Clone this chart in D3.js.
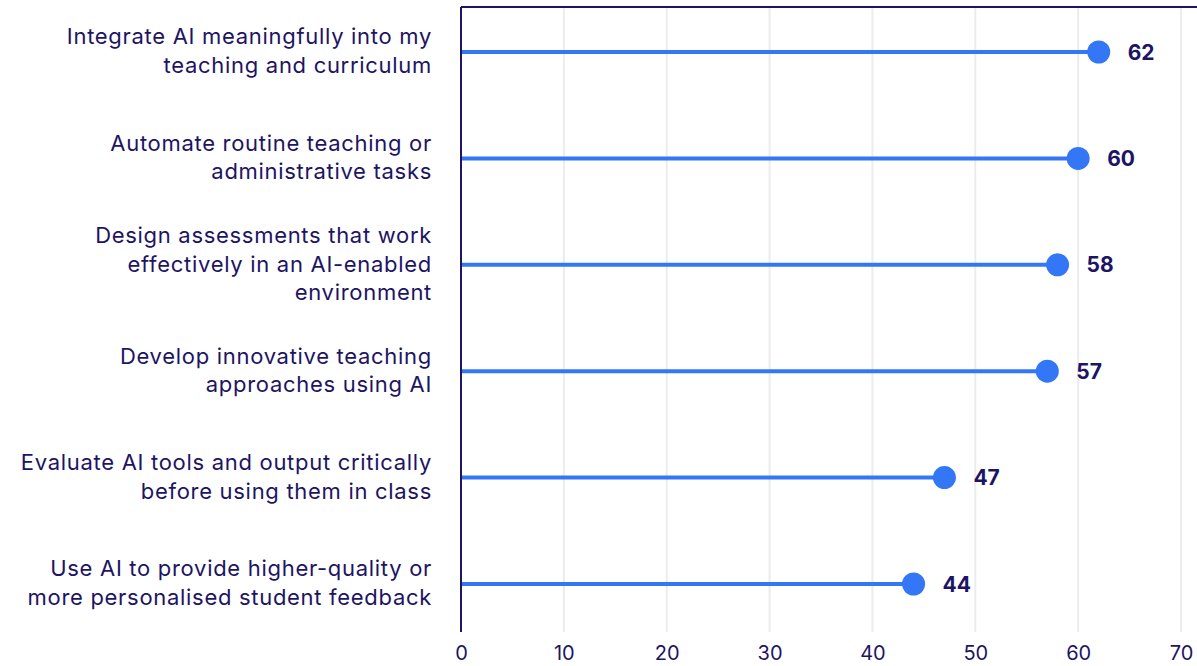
<!DOCTYPE html>
<html>
<head>
<meta charset="utf-8">
<script src="https://cdn.jsdelivr.net/npm/d3@7"></script>
<style>
  html, body { margin: 0; padding: 0; background: #ffffff; }
  svg { display: block; }
</style>
</head>
<body>
<svg id="chart" width="1197" height="666"></svg>
<script>
// Share of respondents (%) per skill area
const categories = [
  ["Integrate AI meaningfully into my", "teaching and curriculum"],
  ["Automate routine teaching or", "administrative tasks"],
  ["Design assessments that work", "effectively in an AI-enabled", "environment"],
  ["Develop innovative teaching", "approaches using AI"],
  ["Evaluate AI tools and output critically", "before using them in class"],
  ["Use AI to provide higher-quality or", "more personalised student feedback"]
];
const values = [62, 60, 58, 57, 47, 44];
const xTicks = [0, 10, 20, 30, 40, 50, 60, 70];

const navy = "#1d1463";
const blue = "#3377f7";
const font = "Inter, 'Noto Sans', sans-serif";

const svg = d3.select("#chart");
const plotLeft = 461, plotRight = 1181, plotTop = 7, plotBottom = 632;

const x = d3.scaleLinear().domain([0, 70]).range([plotLeft, plotRight]);
const y = d3.scalePoint().domain(d3.range(categories.length)).range([52, 584]);

// vertical gridlines
svg.append("g")
  .selectAll("line")
  .data(xTicks.slice(1))
  .join("line")
  .attr("x1", d => x(d)).attr("x2", d => x(d))
  .attr("y1", plotTop).attr("y2", plotBottom)
  .attr("stroke", "#ececec")
  .attr("stroke-width", 2);

// top border line
svg.append("line")
  .attr("x1", plotLeft).attr("x2", 1197)
  .attr("y1", plotTop).attr("y2", plotTop)
  .attr("stroke", navy).attr("stroke-width", 2);

// x axis tick labels
const xAxis = d3.axisBottom(x).tickValues(xTicks).tickSize(0).tickPadding(14);
const gx = svg.append("g").attr("transform", `translate(0,${plotBottom})`).call(xAxis);
gx.select(".domain").remove();
gx.selectAll("text")
  .attr("fill", navy)
  .style("font-family", font)
  .style("font-size", "20px");

// vertical axis line
svg.append("line")
  .attr("x1", plotLeft).attr("x2", plotLeft)
  .attr("y1", plotTop).attr("y2", plotBottom)
  .attr("stroke", navy).attr("stroke-width", 2);

const rows = svg.append("g")
  .selectAll("g")
  .data(values.map((v, i) => ({ v, i, label: categories[i] })))
  .join("g");

// stems
rows.append("line")
  .attr("x1", x(0) + 1).attr("x2", d => x(d.v))
  .attr("y1", d => y(d.i)).attr("y2", d => y(d.i))
  .attr("stroke", blue).attr("stroke-width", 4);

// dots
rows.append("circle")
  .attr("cx", d => x(d.v)).attr("cy", d => y(d.i))
  .attr("r", 11.5)
  .attr("fill", blue);

// value labels
rows.append("text")
  .attr("x", d => x(d.v) + 29).attr("y", d => y(d.i))
  .attr("dy", "0.36em")
  .attr("fill", navy)
  .style("font-family", font)
  .style("font-size", "21px")
  .style("font-weight", 700)
  .text(d => d.v);

// category labels, multi-line, vertically centred on each row
const lineH = 28.5;
rows.append("text")
  .attr("text-anchor", "end")
  .attr("fill", navy)
  .style("font-family", font)
  .style("font-size", "22px")
  .style("letter-spacing", "0.7px")
  .each(function(d) {
    const t = d3.select(this);
    const n = d.label.length;
    d.label.forEach((line, k) => {
      t.append("tspan")
        .attr("x", 432)
        .attr("y", y(d.i) - 1 + (k - (n - 1) / 2) * lineH)
        .attr("dy", "0.35em")
        .text(line);
    });
  });
</script>
</body>
</html>
